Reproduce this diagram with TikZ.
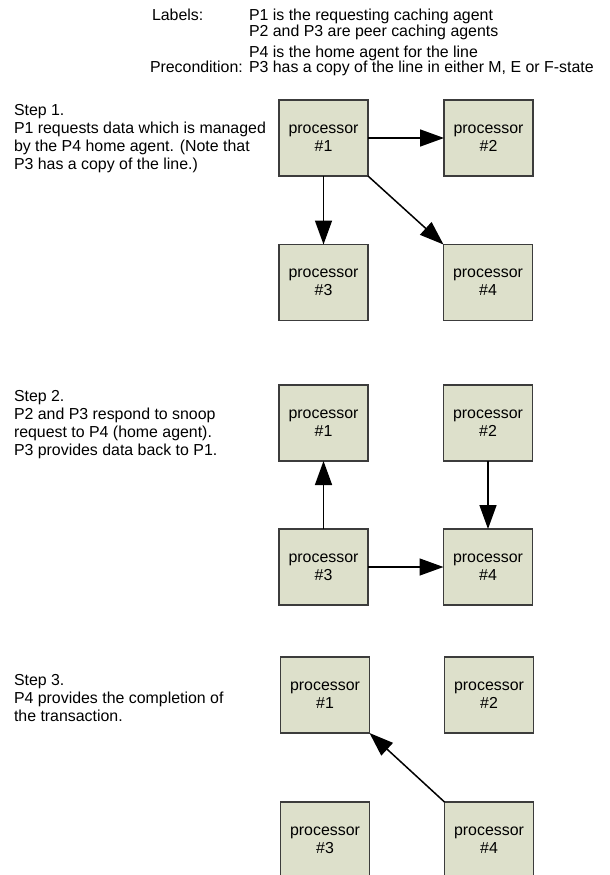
\documentclass[tikz,border=0pt]{standalone}
\usepackage{fontspec}
\setmainfont{Liberation Sans}
\usetikzlibrary{arrows.meta}
\definecolor{procfill}{RGB}{221,224,203}
\definecolor{procline}{RGB}{60,60,60}
\tikzset{
  proc/.style={draw=procline, line width=1.2pt, fill=procfill,
    minimum width=89pt, minimum height=76pt, inner sep=0pt, outer sep=0pt,
    align=center, font=\fontsize{15.9}{18}\selectfont},
  msg/.style={draw=black, line width=1.5pt,
    -{Triangle[length=24pt,width=17pt]}},
  txt/.style={anchor=base west, inner sep=0pt, outer sep=0pt,
    font=\fontsize{15.9}{18}\selectfont}
}
\begin{document}
\begin{tikzpicture}[x=1pt,y=-1pt]
\useasboundingbox (0,0) rectangle (610,875);

% header
\node[txt] (lab)  at (152,21) {Labels:};
\node[txt] (labA) at (249,21) {P1 is the requesting caching agent};
\node[txt] (labB) at (249,37) {P2 and P3 are peer caching agents};
\node[txt] (labC) at (249,57) {P4 is the home agent for the line};
\node[txt] (pre)  at (150,72) {Precondition:};
\node[txt] (preA) at (249,72) {P3 has a copy of the line in either M, E or F-state};

% step descriptions
\node[txt] (s1a) at (14,115) {Step 1.};
\node[txt] (s1b) at (14,133) {P1 requests data which is managed};
\node[txt] (s1c) at (14,151) {by the P4 home agent. (Note that};
\node[txt] (s1d) at (14,169) {P3 has a copy of the line.)};

\node[txt] (s2a) at (14,401) {Step 2.};
\node[txt] (s2b) at (14,419) {P2 and P3 respond to snoop};
\node[txt] (s2c) at (14,437) {request to P4 (home agent).};
\node[txt] (s2d) at (14,455) {P3 provides data back to P1.};

\node[txt] (s3a) at (14,685) {Step 3.};
\node[txt] (s3b) at (14,703) {P4 provides the completion of};
\node[txt] (s3c) at (14,721) {the transaction.};

% step 1
\node[proc] (a1) at (323.5,138) {processor\\\#1};
\node[proc] (a2) at (488.5,138) {processor\\\#2};
\node[proc] (a3) at (323.5,282.5) {processor\\\#3};
\node[proc] (a4) at (488,282.5) {processor\\\#4};
\draw[msg] (a1.east) -- (a2.west);
\draw[msg] (a1.south) -- (a3.north);
\draw[msg] (a1.south east) -- (a4.north west);

% step 2
\node[proc] (b1) at (323.5,423) {processor\\\#1};
\node[proc] (b2) at (488,423) {processor\\\#2};
\node[proc] (b3) at (323.5,567) {processor\\\#3};
\node[proc] (b4) at (488,567) {processor\\\#4};
\draw[msg] (b3.north) -- (b1.south);
\draw[msg] (b2.south) -- (b4.north);
\draw[msg] (b3.east) -- (b4.west);

% step 3
\node[proc] (c1) at (325,695) {processor\\\#1};
\node[proc] (c2) at (489,695) {processor\\\#2};
\node[proc] (c3) at (325,840) {processor\\\#3};
\node[proc] (c4) at (489,840) {processor\\\#4};
\draw[msg] (c4.north west) -- (c1.south east);
\end{tikzpicture}
\end{document}
